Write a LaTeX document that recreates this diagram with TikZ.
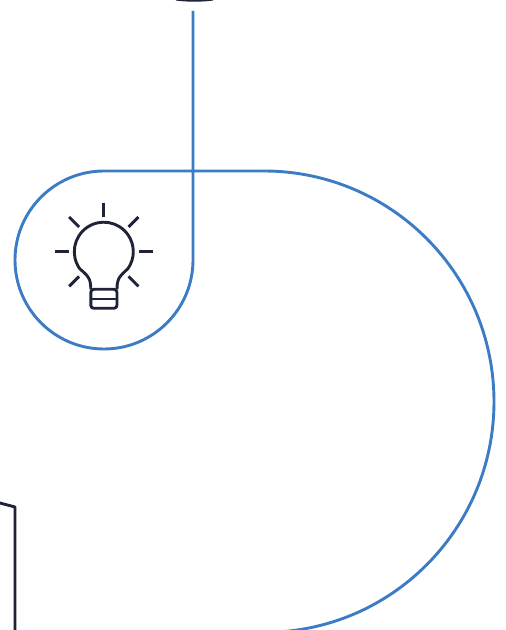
\documentclass[tikz,border=0pt]{standalone}
\usepackage{tikz}
\usetikzlibrary{calc}
\definecolor{ringblue}{RGB}{59,124,196}
\definecolor{inkdark}{RGB}{31,35,55}

\begin{document}
\begin{tikzpicture}[
      x=1pt, y=1pt,
      ringline/.style={draw=ringblue, line width=2.9pt, line join=round},
      inkline/.style={draw=inkdark, line width=2.9pt, line join=round},
      rayline/.style={draw=inkdark, line width=2.9pt}
    ]
      \useasboundingbox (0,0) rectangle (506,630);
      % --- Anchor points of the blue line ---
      \coordinate (linetop) at (193,619);
      \coordinate (ringright) at (193,370);
      \coordinate (ringtop) at (104,459);
      \coordinate (bigtop) at (264,459);
      \coordinate (bulbcentre) at (103.8,378.3);
      % --- Blue line: down, round the small ring, then the large arc ---
      \draw[ringline] (linetop) -- (ringright)
        arc[start angle=0, end angle=-270, radius=89] -- (bigtop)
        arc[start angle=90, end angle=-90, x radius=230, y radius=230.7];
      % --- Dark pieces cut off by the page edges ---
      \draw[inkline, line width=1.8pt] (176,630.4) .. controls (186,628.8) and (203,628.8) .. (213,630.4);
      \draw[inkline] (-2,127.5) -- (15,123) -- (15,-2);
      % --- Bulb: head and neck ---
      \draw[inkline] (90.8,340.7) .. controls (90.8,352) and (88,354) .. ($(bulbcentre)+(215:29.5)$)
        arc[start angle=215, end angle=-35, radius=29.5]
        .. controls (120,354) and (117,352) .. (117,340.7);
      % --- Bulb: screw base ---
      \draw[inkline, rounded corners=3pt] (90.8,340.7) -- (90.8,321.7) -- (117,321.7) -- (117,340.7) -- cycle;
      \draw[inkline] (90.8,331) -- (117,331);
      % --- Rays ---
      \foreach \ang in {0,45,90,135,180,225,315}
        \draw[rayline] ($(bulbcentre)+(\ang:35)$) -- ($(bulbcentre)+(\ang:49)$);
    \end{tikzpicture}
\end{document}
